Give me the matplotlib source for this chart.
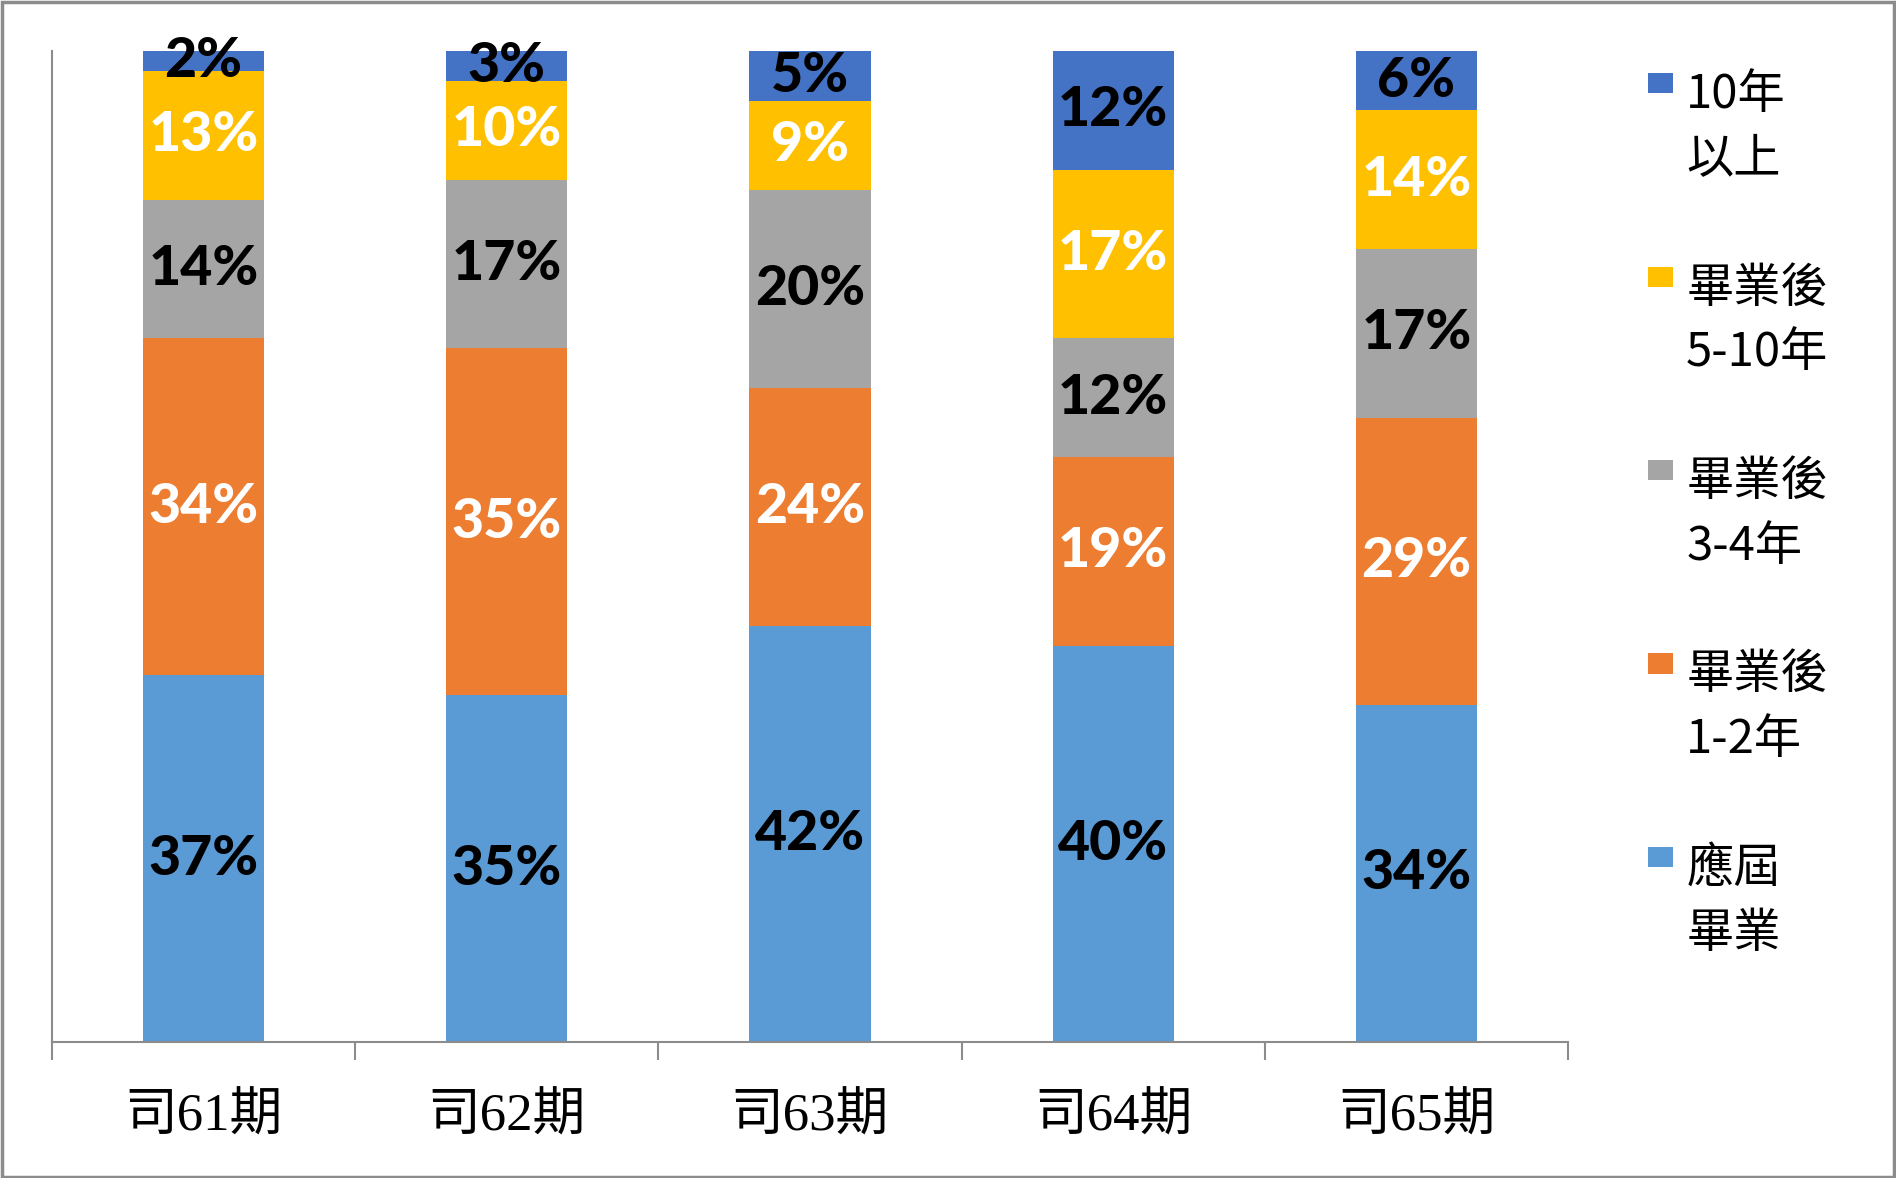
import matplotlib
matplotlib.use("Agg")
import matplotlib.pyplot as plt
from matplotlib.patches import Rectangle
from matplotlib.legend_handler import HandlerPatch, update_from_first_child
import numpy as np

categories = ["司61期", "司62期", "司63期", "司64期", "司65期"]
series_names = ["應屆\n畢業", "畢業後\n1-2年", "畢業後\n3-4年", "畢業後\n5-10年", "10年\n以上"]
fresh = [37, 35, 42, 40, 34]
y1_2 = [34, 35, 24, 19, 29]
y3_4 = [14, 17, 20, 12, 17]
y5_10 = [13, 10, 9, 17, 14]
y10plus = [2, 3, 5, 12, 6]

series = [fresh, y1_2, y3_4, y5_10, y10plus]
colors = ["#5B9BD5", "#ED7D31", "#A5A5A5", "#FFC000", "#4472C4"]
label_colors = ["black", "white", "black", "white", "black"]

fig = plt.figure(figsize=(18.96, 11.78), dpi=100)
ax = fig.add_axes([0.0274, 0.1155, 0.7996, 0.8412])

x = np.arange(len(categories))
bottom = np.zeros(len(categories))
handles = []
for vals, col, lc, name in zip(series, colors, label_colors, series_names):
    vals = np.array(vals, dtype=float)
    bars = ax.bar(x, vals, 0.4, bottom=bottom, color=col, label=name, linewidth=0)
    handles.append(bars)
    for xi, b, v in zip(x, bottom, vals):
        ax.text(xi, b + v / 2, f"{int(v)}%", ha="center", va="center",
                fontsize=40, fontweight="black", family="Lato", color=lc)
    bottom += vals

ax.set_xlim(-0.5, len(categories) - 0.5)
ax.set_ylim(0, 100)
ax.set_yticks([])
for s in ["top", "right"]:
    ax.spines[s].set_visible(False)
for s in ["left", "bottom"]:
    ax.spines[s].set_color("#8C8C8C")
    ax.spines[s].set_linewidth(1.5)

ax.set_xticks(np.arange(-0.5, len(categories), 1.0))
ax.set_xticklabels([])
ax.tick_params(axis="x", which="major", length=13, width=1.5, color="#8C8C8C")
ax.set_xticks(x, minor=True)
ax.set_xticklabels(categories, minor=True,
                   fontfamily=["Liberation Serif", "Noto Sans CJK TC"], fontsize=38)
ax.tick_params(axis="x", which="minor", length=0, pad=37)


def raised_patch(legend, orig_handle, xdescent, ydescent, width, height, fontsize):
    return Rectangle((-xdescent, -ydescent + 33), width, height)


leg = fig.legend(handles[::-1], series_names[::-1], loc="upper left",
                 bbox_to_anchor=(0.847, 0.976), frameon=False,
                 prop={"family": ["Noto Sans CJK TC"], "size": 34},
                 handlelength=0.52, handleheight=0.28, handletextpad=0.28,
                 labelspacing=1.70,
                 handler_map={type(handles[0]): HandlerPatch(
                     patch_func=raised_patch, update_func=update_from_first_child)})
for t in leg.get_texts():
    t.set_linespacing(1.43)

fig.patches.append(Rectangle((0.001, 0.001), 0.998, 0.997, transform=fig.transFigure,
                             fill=False, edgecolor="#8C8C8C", linewidth=2.5))

fig.savefig("out.png", dpi=100)
